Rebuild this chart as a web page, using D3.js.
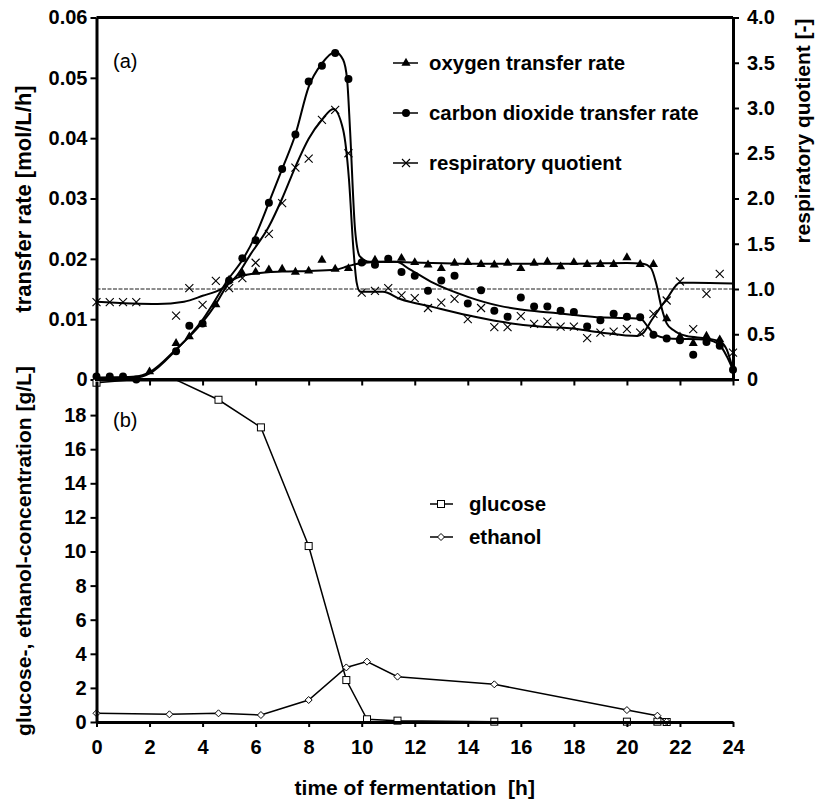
<!DOCTYPE html>
<html>
<head>
<meta charset="utf-8">
<script src="https://cdn.jsdelivr.net/npm/d3@7"></script>
<style>
body { margin: 0; background: #fff; }
text { font-family: "Liberation Sans", Arial, sans-serif; }
</style>
</head>
<body>
<script>
// Top panel (a): measured points
const otrTime = [2.0, 3.0, 3.5, 4.0, 4.5, 5.0, 5.5, 6.0, 6.5, 7.0, 7.5, 8.0, 8.5, 9.0, 9.5, 10.0, 10.5, 11.0, 11.5, 12.0, 12.5, 13.0, 13.5, 14.0, 14.5, 15.0, 15.5, 16.0, 16.5, 17.0, 17.5, 18.0, 18.5, 19.0, 19.5, 20.0, 20.5, 21.0, 21.5, 22.0, 22.5, 23.0, 23.5];
const otrValue = [0.0013, 0.006, 0.0071, 0.0092, 0.0124, 0.0165, 0.0176, 0.0178, 0.0182, 0.0183, 0.0178, 0.018, 0.0198, 0.0183, 0.0184, 0.0195, 0.0198, 0.0198, 0.0201, 0.0194, 0.019, 0.0184, 0.0193, 0.0194, 0.0191, 0.019, 0.0193, 0.0184, 0.0193, 0.0195, 0.0187, 0.0194, 0.0191, 0.0191, 0.0191, 0.0202, 0.0191, 0.0191, 0.0101, 0.0071, 0.006, 0.0072, 0.0066];

const cerTime = [0, 0.5, 1.0, 1.5, 3.0, 3.5, 4.0, 5.0, 5.5, 6.0, 6.5, 7.0, 7.5, 8.0, 8.5, 9.0, 9.5, 10.0, 10.5, 11.0, 11.5, 12.0, 12.5, 13.0, 13.5, 14.0, 14.5, 15.0, 15.5, 16.0, 16.5, 17.0, 17.5, 18.0, 18.5, 19.0, 19.5, 20.0, 20.5, 21.0, 21.5, 22.0, 22.5, 23.0, 23.5, 24.0];
const cerValue = [0.0005, 0.0005, 0.0005, 0.0, 0.0047, 0.0089, 0.0093, 0.0164, 0.0201, 0.0231, 0.0293, 0.0349, 0.0406, 0.0494, 0.052, 0.0541, 0.0498, 0.0194, 0.019, 0.020, 0.0178, 0.0172, 0.0147, 0.0164, 0.0172, 0.0126, 0.0148, 0.0114, 0.0104, 0.0136, 0.0121, 0.0121, 0.0114, 0.0112, 0.0088, 0.0098, 0.0109, 0.0104, 0.0103, 0.0074, 0.0068, 0.0065, 0.0041, 0.0062, 0.0056, 0.0016];

const rqTime = [0, 0.5, 1.0, 1.5, 3.0, 3.5, 4.0, 4.5, 5.0, 5.5, 6.0, 6.5, 7.0, 7.5, 8.0, 8.5, 9.0, 9.5, 10.0, 10.5, 11.0, 11.5, 12.0, 12.5, 13.0, 13.5, 14.0, 14.5, 15.0, 15.5, 16.0, 16.5, 17.0, 17.5, 18.0, 18.5, 19.0, 19.5, 20.0, 20.5, 21.0, 21.5, 22.0, 22.5, 23.0, 23.5, 24.0];
const rqValue = [0.855, 0.855, 0.855, 0.855, 0.707, 1.01, 0.825, 1.09, 1.01, 1.12, 1.29, 1.61, 1.95, 2.34, 2.44, 2.87, 2.98, 2.50, 0.96, 0.98, 1.01, 0.93, 0.90, 0.79, 0.85, 0.89, 0.667, 0.79, 0.578, 0.578, 0.70, 0.615, 0.64, 0.585, 0.585, 0.456, 0.518, 0.53, 0.556, 0.518, 0.725, 0.873, 1.083, 0.556, 0.947, 1.168, 0.297];

// Top panel (a): fitted curves, knots
const otrFitTime = [0, 1.5, 2, 3, 4, 4.5, 5, 5.5, 6, 7, 8, 9, 9.5, 10, 11, 12, 14, 16, 18, 20, 20.6, 20.9, 21.1, 21.3, 21.5, 21.75, 22.25, 23, 23.5, 23.77, 24];
const otrFitValue = [0.0003, 0.0005, 0.0012, 0.005, 0.0095, 0.0125, 0.016, 0.0172, 0.0176, 0.0179, 0.018, 0.0182, 0.0188, 0.0193, 0.0195, 0.0194, 0.0192, 0.0192, 0.0192, 0.0193, 0.0192, 0.0185, 0.016, 0.012, 0.0093, 0.0082, 0.0072, 0.0068, 0.0063, 0.0049, 0.0016];

const cerFitTime = [0, 1.5, 2, 3, 4, 5, 5.5, 6, 6.5, 7, 7.5, 8, 8.5, 9, 9.3, 9.45, 9.56, 9.75, 9.93, 10.3, 11.3, 11.8, 12.7, 14, 15.2, 16, 17.1, 18, 19, 20.5, 20.8, 21.06, 21.6, 23, 23.5, 23.77, 24];
const cerFitValue = [0.0003, 0.0003, 0.001, 0.0049, 0.0099, 0.0168, 0.0198, 0.0239, 0.0293, 0.0349, 0.0406, 0.0485, 0.0524, 0.0543, 0.053, 0.0497, 0.0414, 0.0248, 0.0204, 0.0195, 0.0195, 0.0183, 0.016, 0.0137, 0.0122, 0.0116, 0.0111, 0.0107, 0.0103, 0.0101, 0.0087, 0.0074, 0.0068, 0.0066, 0.0057, 0.0038, 0.0016];

const rqFitTime = [0, 2.3, 3.3, 4, 4.7, 5.3, 5.8, 6.5, 7, 7.5, 8, 8.5, 8.93, 9.3, 9.52, 9.68, 9.81, 9.94, 10.8, 11.45, 12.7, 14, 15.2, 16.7, 17.85, 19, 20.4, 20.6, 20.94, 21.5, 22, 22.5, 24];
const rqFitValue = [0.86, 0.835, 0.86, 0.925, 1.0, 1.15, 1.38, 1.69, 2.0, 2.35, 2.66, 2.87, 2.99, 2.76, 2.21, 1.47, 1.07, 0.97, 0.97, 0.89, 0.8, 0.71, 0.64, 0.585, 0.567, 0.52, 0.48, 0.51, 0.66, 0.89, 1.07, 1.07, 1.06];

// Bottom panel (b)
const concTime = [0, 2.75, 4.6, 6.2, 8.0, 9.42, 10.2, 11.35, 15.0, 20.0, 21.15, 21.5];
const glucose = [19.9, 20.25, 18.9, 17.28, 10.32, 2.46, 0.16, 0.08, 0.02, 0.02, 0.02, 0.0];
const ethanol = [0.51, 0.45, 0.51, 0.41, 1.29, 3.2, 3.54, 2.66, 2.21, 0.70, 0.37, 0.02];

// Ticks
const timeTicks = d3.range(0, 25, 2);
const rateTicks = [0, 0.01, 0.02, 0.03, 0.04, 0.05, 0.06];
const rqTicks = [0, 0.5, 1.0, 1.5, 2.0, 2.5, 3.0, 3.5, 4.0];
const concTicks = [0, 2, 4, 6, 8, 10, 12, 14, 16, 18];
const rqReference = 1.0;

const topLegend = ["oxygen transfer rate", "carbon dioxide transfer rate", "respiratory quotient"];
const bottomLegend = ["glucose", "ethanol"];

let width = 817;
let height = 802;

let svg = d3.select("body")
  .append("svg")
  .attr("width", width)
  .attr("height", height);

const x = d3.scaleLinear().domain([0, 24]).range([96.5, 733]);
const yRate = d3.scaleLinear().domain([0, 0.06]).range([379.5, 17.5]);
const yRq = d3.scaleLinear().domain([0, 4]).range([379.5, 17.5]);
const yConc = d3.scaleLinear().domain([0, 20]).range([722, 381]);

const tickFont = "bold 20px 'Liberation Sans', Arial, sans-serif";
const legendFont = "bold 20.4px 'Liberation Sans', Arial, sans-serif";

function styleAxis(g) {
  g.select(".domain").attr("stroke-width", 3).attr("stroke", "#000");
  g.selectAll(".tick line").attr("stroke-width", 2).attr("stroke", "#000");
  g.selectAll(".tick text").style("font", tickFont).attr("fill", "#000");
}

// symbols
function drawMarker(g, kind, cx, cy) {
  if (kind === "triangle") {
    g.append("path").attr("d", d3.symbol(d3.symbolTriangle, 36)())
      .attr("transform", `translate(${cx},${cy})`).attr("fill", "#000");
  } else if (kind === "circle") {
    g.append("circle").attr("cx", cx).attr("cy", cy).attr("r", 4).attr("fill", "#000");
  } else if (kind === "cross") {
    g.append("path").attr("d", `M${cx - 4},${cy - 4}L${cx + 4},${cy + 4}M${cx - 4},${cy + 4}L${cx + 4},${cy - 4}`)
      .attr("stroke", "#000").attr("stroke-width", 1.1).attr("fill", "none");
  } else if (kind === "square") {
    g.append("rect").attr("x", cx - 3.5).attr("y", cy - 3.5).attr("width", 7).attr("height", 7)
      .attr("fill", "#fff").attr("stroke", "#000").attr("stroke-width", 1);
  } else if (kind === "diamond") {
    g.append("path").attr("d", `M${cx},${cy - 3.5}L${cx + 3.5},${cy}L${cx},${cy + 3.5}L${cx - 3.5},${cy}Z`)
      .attr("fill", "#fff").attr("stroke", "#000").attr("stroke-width", 1);
  }
}

// ---------- panel (a) ----------
let panelA = svg.append("g").attr("id", "panel-a");

// reference line RQ = 1
panelA.append("line")
  .attr("x1", x(0)).attr("x2", x(24))
  .attr("y1", yRq(rqReference)).attr("y2", yRq(rqReference))
  .attr("stroke", "#000").attr("stroke-width", 0.9).attr("stroke-dasharray", "4,1.5");

const fitLine = (ys) => d3.line()
  .x(d => x(d[0]))
  .y(d => ys(d[1]))
  .curve(d3.curveMonotoneX);

panelA.append("path").datum(d3.zip(otrFitTime, otrFitValue))
  .attr("d", fitLine(yRate)).attr("fill", "none").attr("stroke", "#000").attr("stroke-width", 2);
panelA.append("path").datum(d3.zip(cerFitTime, cerFitValue))
  .attr("d", fitLine(yRate)).attr("fill", "none").attr("stroke", "#000").attr("stroke-width", 2);
panelA.append("path").datum(d3.zip(rqFitTime, rqFitValue))
  .attr("d", fitLine(yRq)).attr("fill", "none").attr("stroke", "#000").attr("stroke-width", 2);

otrTime.forEach((t, i) => drawMarker(panelA, "triangle", x(t), yRate(otrValue[i])));
cerTime.forEach((t, i) => drawMarker(panelA, "circle", x(t), yRate(cerValue[i])));
rqTime.forEach((t, i) => drawMarker(panelA, "cross", x(t), yRq(rqValue[i])));

// top frame
panelA.append("line")
  .attr("x1", x(0)).attr("x2", x(24))
  .attr("y1", yRate(0.06)).attr("y2", yRate(0.06))
  .attr("stroke", "#000").attr("stroke-width", 3);

panelA.append("g")
  .attr("transform", `translate(${x(0)},0)`)
  .call(d3.axisLeft(yRate).tickValues(rateTicks).tickSize(6).tickSizeOuter(0).tickPadding(3)
    .tickFormat(d => d === 0 ? "0" : d.toFixed(2)))
  .call(styleAxis);

panelA.append("g")
  .attr("transform", `translate(${x(24)},0)`)
  .call(d3.axisRight(yRq).tickValues(rqTicks).tickSize(6).tickSizeOuter(0).tickPadding(8)
    .tickFormat(d => d === 0 ? "0" : d.toFixed(1)))
  .call(styleAxis);

panelA.append("g")
  .attr("transform", `translate(0,${yRate(0)})`)
  .call(d3.axisBottom(x).tickValues(timeTicks).tickSize(6).tickSizeOuter(0).tickFormat(""))
  .call(styleAxis);

panelA.append("text").attr("x", 113).attr("y", 68)
  .style("font-size", "20px").text("(a)");

// legend (a)
const topKinds = ["triangle", "circle", "cross"];
topLegend.forEach((name, i) => {
  const cy = 63 + i * 50;
  panelA.append("line").attr("x1", 393).attr("x2", 418).attr("y1", cy).attr("y2", cy)
    .attr("stroke", "#000").attr("stroke-width", 1.5);
  drawMarker(panelA, topKinds[i], 406, cy);
  panelA.append("text").attr("x", 429).attr("y", cy).attr("dy", "0.35em")
    .style("font", legendFont).text(name);
});

// ---------- panel (b) ----------
let panelB = svg.append("g").attr("id", "panel-b");

svg.append("defs").append("clipPath").attr("id", "clip-b")
  .append("rect").attr("x", 0).attr("y", 379).attr("width", width).attr("height", height - 379);

let plotB = panelB.append("g").attr("clip-path", "url(#clip-b)");

const concLine = d3.line().x(d => x(d[0])).y(d => yConc(d[1]));

plotB.append("path").datum(d3.zip(concTime, glucose))
  .attr("d", concLine).attr("fill", "none").attr("stroke", "#000").attr("stroke-width", 1.5);
plotB.append("path").datum(d3.zip(concTime, ethanol))
  .attr("d", concLine).attr("fill", "none").attr("stroke", "#000").attr("stroke-width", 1.5);

concTime.forEach((t, i) => drawMarker(plotB, "square", x(t), yConc(glucose[i])));
concTime.forEach((t, i) => drawMarker(plotB, "diamond", x(t), yConc(ethanol[i])));

panelB.append("g")
  .attr("transform", `translate(${x(0)},0)`)
  .call(d3.axisLeft(yConc).tickValues(concTicks).tickSize(6).tickSizeOuter(0).tickPadding(4))
  .call(styleAxis);

panelB.append("g")
  .attr("transform", `translate(0,${yConc(0)})`)
  .call(d3.axisBottom(x).tickValues(timeTicks).tickSize(5).tickSizeOuter(0).tickPadding(13))
  .call(styleAxis);

// redraw panel (a) bottom axis line over the clipped data
svg.append("line")
  .attr("x1", x(0) - 1.5).attr("x2", x(24) + 1.5)
  .attr("y1", yRate(0)).attr("y2", yRate(0))
  .attr("stroke", "#000").attr("stroke-width", 3);

panelB.append("text").attr("x", 113).attr("y", 427)
  .style("font-size", "20px").text("(b)");

const bottomKinds = ["square", "diamond"];
bottomLegend.forEach((name, i) => {
  const cy = 504 + i * 33;
  panelB.append("line").attr("x1", 430).attr("x2", 453).attr("y1", cy).attr("y2", cy)
    .attr("stroke", "#000").attr("stroke-width", 1.5);
  drawMarker(panelB, bottomKinds[i], 441, cy);
  panelB.append("text").attr("x", 469).attr("y", cy).attr("dy", "0.35em")
    .style("font", legendFont).text(name);
});

// ---------- axis titles ----------
svg.append("text")
  .attr("transform", "translate(31,199) rotate(-90)")
  .attr("text-anchor", "middle")
  .style("font", "bold 22px 'Liberation Sans', Arial, sans-serif")
  .text("transfer rate [mol/L/h]");

svg.append("text")
  .attr("transform", "translate(31,551) rotate(-90)")
  .attr("text-anchor", "middle")
  .style("font", "bold 21px 'Liberation Sans', Arial, sans-serif")
  .text("glucose-, ethanol-concentration [g/L]");

svg.append("text")
  .attr("transform", "translate(810,131) rotate(-90)")
  .attr("text-anchor", "middle")
  .style("font", "bold 21px 'Liberation Sans', Arial, sans-serif")
  .text("respiratory quotient [-]");

svg.append("text")
  .attr("x", (x(0) + x(24)) / 2).attr("y", 795)
  .attr("text-anchor", "middle")
  .style("font", "bold 21px 'Liberation Sans', Arial, sans-serif")
  .style("white-space", "pre")
  .text("time of fermentation  [h]");
</script>
</body>
</html>
